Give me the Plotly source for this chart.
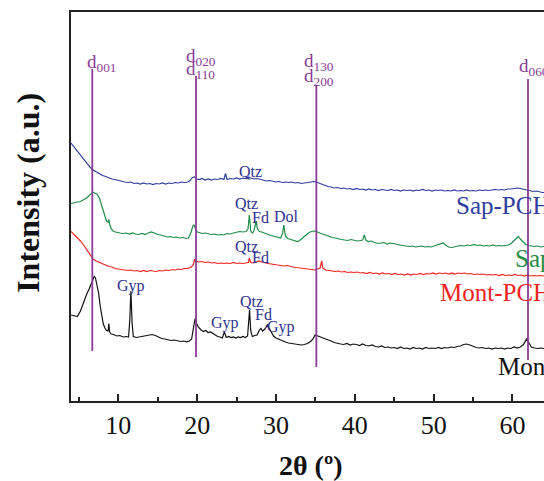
import plotly.graph_objects as go

# ---------------- data (2theta in degrees, intensity in arbitrary units) ----------------
MONT = [(4.0, 86), (4.4, 85), (4.8, 84.5), (5.2, 90), (5.6, 99), (6.0, 107), (6.3, 112), (6.6, 117),
        (6.8, 121), (6.95, 124.5), (7.1, 123), (7.3, 117), (7.5, 108), (7.7, 95), (7.9, 84), (8.1, 77),
        (8.3, 73), (8.5, 70.5), (8.7, 70), (8.8, 77.5), (8.9, 69), (9.1, 67), (9.4, 66.5), (9.8, 65),
        (10.2, 65.5), (10.6, 64), (11.0, 64.5), (11.3, 64), (11.45, 80), (11.6, 110), (11.75, 78),
        (11.9, 64.5), (12.3, 63.5), (12.7, 64), (13.1, 64.5), (13.5, 65), (13.9, 66), (14.3, 66.5),
        (14.7, 65.5), (15.1, 64), (15.5, 62.5), (15.9, 62), (16.3, 61), (16.7, 60.5), (17.1, 61),
        (17.5, 60), (17.9, 59.5), (18.3, 60), (18.7, 59.2), (19.0, 60), (19.3, 62), (19.55, 74),
        (19.75, 82.5), (19.95, 77), (20.2, 73.5), (20.5, 71), (20.8, 69.5), (21.1, 70.5), (21.4, 68.5),
        (21.7, 69), (22.0, 67.5), (22.3, 66), (22.6, 64.5), (22.9, 64), (23.2, 63), (23.45, 69),
        (23.7, 63.5), (24.0, 64.5), (24.3, 63.5), (24.6, 64), (24.9, 63), (25.2, 64), (25.5, 63.5),
        (25.8, 64.5), (26.1, 63.5), (26.4, 65), (26.55, 80), (26.65, 91), (26.8, 70), (27.0, 64.5),
        (27.3, 65.5), (27.6, 66), (27.9, 71), (28.1, 72.5), (28.3, 70), (28.6, 72), (28.9, 76),
        (29.1, 73), (29.4, 68), (29.7, 65), (30.0, 63), (30.4, 61.5), (30.8, 60.5), (31.2, 59),
        (31.6, 58), (32.0, 57.5), (32.4, 57), (32.8, 56.5), (33.2, 56), (33.6, 56.5), (34.0, 57.5),
        (34.4, 59.5), (34.7, 62), (34.95, 66), (35.2, 65), (35.5, 64.5), (35.8, 63.5), (36.2, 62.5),
        (36.6, 61), (37.0, 60), (37.4, 58.5), (37.8, 57.5), (38.2, 57), (38.6, 56.5), (39.0, 57.5),
        (39.4, 56), (39.8, 57), (40.2, 56.5), (40.6, 55.5), (41.0, 57), (41.4, 55.5), (41.8, 55),
        (42.2, 56), (42.6, 54.5), (43.0, 54), (43.4, 55), (43.8, 53.5), (44.2, 54), (44.6, 53),
        (45.0, 53.5), (45.4, 52.5), (45.8, 54), (46.2, 52.5), (46.6, 53), (47.0, 52), (47.4, 53.5),
        (47.8, 52.5), (48.2, 53), (48.6, 52), (49.0, 53.5), (49.4, 52.5), (49.8, 53), (50.2, 52.5),
        (50.6, 53.5), (51.0, 52.5), (51.4, 53.5), (51.8, 53), (52.2, 54), (52.6, 53.5), (53.0, 54.5),
        (53.4, 55), (53.8, 56.5), (54.2, 57), (54.6, 56), (55.0, 54.5), (55.4, 53.5), (55.8, 53),
        (56.2, 53.5), (56.6, 52.5), (57.0, 53), (57.4, 52), (57.8, 53), (58.2, 52.5), (58.6, 53),
        (59.0, 52), (59.4, 53), (59.8, 52.5), (60.2, 54), (60.6, 53), (61.0, 54), (61.4, 56.5),
        (61.8, 62), (62.1, 58), (62.4, 54), (62.8, 53), (63.2, 52.5), (63.6, 53), (64.0, 52.5)]

MONT_PCH = [(4.0, 169.5), (4.4, 166.5), (4.8, 163), (5.2, 160), (5.6, 156), (6.0, 151), (6.4, 146),
            (6.8, 142), (7.2, 140), (7.6, 138.5), (8.0, 137), (8.4, 136), (8.8, 134.5), (9.2, 134),
            (9.6, 132.5), (10.0, 132), (10.4, 131.5), (10.8, 131), (11.2, 130.5), (11.6, 131),
            (12.0, 130), (12.4, 130.5), (12.8, 129.5), (13.2, 130.5), (13.6, 129.5), (14.0, 130.5),
            (14.4, 130), (14.8, 129.5), (15.2, 130.5), (15.6, 130), (16.0, 131), (16.4, 130.5),
            (16.8, 131.5), (17.2, 131), (17.6, 132), (18.0, 131.5), (18.4, 132.5), (18.8, 132.5),
            (19.2, 133.5), (19.5, 136), (19.7, 142), (19.9, 140), (20.2, 139), (20.6, 139.5),
            (21.0, 138.5), (21.4, 139), (21.8, 138), (22.2, 138.5), (22.6, 137.5), (23.0, 138),
            (23.4, 137.5), (23.8, 138), (24.2, 137.5), (24.6, 138.5), (25.0, 137.5), (25.4, 138),
            (25.8, 137.5), (26.2, 138), (26.5, 138.5), (26.62, 143), (26.8, 138.5), (27.1, 138),
            (27.5, 139), (27.9, 140), (28.2, 139), (28.6, 138), (29.0, 137.5), (29.4, 137),
            (29.8, 136.5), (30.2, 136), (30.6, 136), (31.0, 135), (31.4, 135.5), (31.8, 134.5),
            (32.2, 134), (32.6, 133.5), (33.0, 133), (33.4, 132.5), (33.8, 132), (34.2, 131.5),
            (34.6, 131.5), (35.0, 131), (35.3, 132), (35.6, 133), (35.8, 140), (35.95, 133),
            (36.3, 131), (36.7, 130.5), (37.1, 130), (37.5, 129.5), (37.9, 130), (38.3, 129),
            (38.7, 129.5), (39.1, 128.5), (39.5, 129), (39.9, 128.5), (40.3, 129), (40.7, 128),
            (41.1, 128.5), (41.5, 127.5), (41.9, 128.5), (42.3, 127.5), (42.7, 128), (43.1, 127),
            (43.5, 128), (43.9, 127), (44.3, 127.5), (44.7, 126.5), (45.1, 127.5), (45.5, 126.5),
            (45.9, 127), (46.3, 126), (46.7, 127), (47.1, 126), (47.5, 127), (47.9, 126.5),
            (48.3, 127.5), (48.7, 126.5), (49.1, 127.5), (49.5, 127), (49.9, 128), (50.3, 127),
            (50.7, 128), (51.1, 127.5), (51.5, 128), (51.9, 127), (52.3, 128), (52.7, 127),
            (53.1, 128), (53.5, 127.5), (53.9, 128), (54.3, 127), (54.7, 127.5), (55.1, 126.5),
            (55.5, 127), (55.9, 126.5), (56.3, 127), (56.7, 126), (57.1, 126.5), (57.5, 126),
            (57.9, 126.5), (58.3, 125.5), (58.7, 126.5), (59.1, 125.5), (59.5, 126), (59.9, 125.5),
            (60.3, 126.5), (60.7, 125.5), (61.1, 126), (61.5, 125), (61.9, 126), (62.3, 125),
            (62.7, 125.5), (63.1, 125), (63.5, 125.5), (64.0, 125)]

SAP = [(4.0, 197.5), (4.4, 198.5), (4.8, 199), (5.2, 199.5), (5.6, 201), (6.0, 203), (6.3, 205.5),
       (6.6, 208), (6.8, 208.7), (7.0, 208), (7.3, 207), (7.6, 203), (7.9, 195), (8.2, 186),
       (8.5, 180), (8.7, 179), (8.8, 181.5), (8.9, 177), (9.1, 172), (9.4, 169.5), (9.8, 168.5),
       (10.2, 168), (10.6, 167.5), (11.0, 168), (11.4, 167), (11.8, 168), (12.2, 167), (12.6, 166.5),
       (13.0, 167.5), (13.4, 166.5), (13.8, 168), (14.2, 169), (14.6, 168), (15.0, 166.5), (15.4, 166),
       (15.8, 165), (16.2, 164), (16.6, 164.5), (17.0, 163.5), (17.4, 164), (17.8, 163), (18.2, 163.5),
       (18.6, 162.5), (18.9, 163), (19.2, 168), (19.45, 175), (19.6, 176), (19.8, 172), (20.0, 169),
       (20.3, 168.5), (20.6, 167.5), (21.0, 168), (21.4, 167), (21.8, 166.5), (22.2, 167), (22.6, 166),
       (23.0, 166.5), (23.4, 166), (23.8, 167.5), (24.2, 167), (24.6, 168), (25.0, 168.5),
       (25.4, 169.5), (25.8, 169), (26.2, 169.5), (26.45, 172), (26.62, 186), (26.8, 170), (27.0, 168),
       (27.2, 170), (27.4, 178), (27.5, 180), (27.65, 172), (27.9, 169.5), (28.2, 169), (28.6, 167.5),
       (29.0, 166.5), (29.4, 165.5), (29.8, 164.5), (30.2, 163.5), (30.6, 163), (30.85, 168),
       (31.0, 176), (31.2, 165), (31.5, 162.5), (31.9, 161.5), (32.3, 160.5), (32.7, 159.5),
       (33.0, 160.5), (33.3, 162.5), (33.6, 164.5), (33.9, 166), (34.2, 168.5), (34.5, 169.5),
       (34.8, 170), (35.1, 169.5), (35.5, 168), (35.9, 167), (36.3, 166), (36.7, 164.5), (37.1, 163.5),
       (37.5, 163), (37.9, 162), (38.3, 161.5), (38.7, 161), (39.1, 160.5), (39.5, 161.5), (39.9, 160.5),
       (40.3, 160), (40.7, 160.5), (41.0, 161), (41.2, 166), (41.4, 161), (41.7, 159.5), (42.1, 160),
       (42.5, 158.5), (42.9, 157.5), (43.3, 158), (43.7, 158.5), (44.1, 157), (44.5, 158), (44.9, 157.5),
       (45.3, 156.5), (45.7, 156), (46.1, 155.5), (46.5, 155), (46.9, 154.5), (47.3, 155), (47.7, 154),
       (48.1, 154.5), (48.5, 155), (48.9, 154), (49.3, 154.5), (49.7, 154), (50.1, 155), (50.5, 156),
       (50.9, 157.5), (51.2, 158), (51.5, 156), (51.9, 154), (52.3, 153.5), (52.7, 154.5), (53.1, 155),
       (53.5, 155.5), (53.9, 155), (54.3, 156), (54.7, 155.5), (55.1, 156.5), (55.5, 155.5), (55.9, 156),
       (56.3, 155), (56.7, 155.5), (57.1, 155), (57.5, 156), (57.9, 155), (58.3, 155.5), (58.7, 155),
       (59.1, 155.5), (59.5, 156), (59.9, 158), (60.2, 160.5), (60.5, 163), (60.75, 164.5), (61.0, 162),
       (61.3, 159), (61.6, 157), (62.0, 155.5), (62.4, 155), (62.8, 154.5), (63.2, 155), (63.6, 154),
       (64.0, 154.5)]

SAP_PCH = [(4.0, 258), (4.4, 254), (4.8, 249.5), (5.2, 245.5), (5.6, 241), (6.0, 237.5), (6.4, 234),
           (6.8, 231), (7.2, 229), (7.6, 227), (8.0, 225.5), (8.4, 224.5), (8.8, 223), (9.2, 222),
           (9.6, 221.5), (10.0, 220.5), (10.4, 220), (10.8, 219), (11.2, 218.5), (11.6, 219),
           (12.0, 217.5), (12.4, 218), (12.8, 217), (13.2, 218), (13.6, 217), (14.0, 217.5),
           (14.4, 216.5), (14.8, 217.5), (15.2, 217), (15.6, 218), (16.0, 217), (16.4, 218),
           (16.8, 217.5), (17.2, 218.5), (17.6, 218), (18.0, 219), (18.4, 218.5), (18.8, 219),
           (19.1, 220.5), (19.4, 223.5), (19.7, 224), (20.0, 222), (20.3, 221.5), (20.6, 222.5),
           (21.0, 221), (21.4, 222), (21.8, 221), (22.2, 222), (22.6, 221.5), (23.0, 222.5),
           (23.4, 221.5), (23.6, 227.5), (23.8, 221.5), (24.2, 222.5), (24.6, 222), (25.0, 223),
           (25.4, 222), (25.8, 223), (26.2, 222.5), (26.5, 224), (26.8, 223), (27.2, 222),
           (27.6, 222.5), (28.0, 221.5), (28.4, 221), (28.8, 220), (29.2, 220.5), (29.6, 219.5),
           (30.0, 219), (30.4, 219.5), (30.8, 218.5), (31.2, 219), (31.6, 218.5), (32.0, 219),
           (32.4, 218), (32.8, 218.5), (33.2, 217.5), (33.6, 218), (34.0, 218.5), (34.4, 219),
           (34.8, 219.5), (35.1, 219), (35.4, 218), (35.8, 216.5), (36.2, 215.5), (36.6, 214.5),
           (37.0, 214), (37.4, 213), (37.8, 213.5), (38.2, 212.5), (38.6, 213), (39.0, 212),
           (39.4, 212.5), (39.8, 211.5), (40.2, 212.5), (40.6, 211.5), (41.0, 212), (41.4, 211),
           (41.8, 212), (42.2, 211), (42.6, 211.5), (43.0, 210.5), (43.4, 211.5), (43.8, 211),
           (44.2, 210.5), (44.6, 211.5), (45.0, 210.5), (45.4, 211), (45.8, 210), (46.2, 211),
           (46.6, 210.5), (47.0, 211), (47.4, 210), (47.8, 211), (48.2, 210.5), (48.6, 211.5),
           (49.0, 210.5), (49.4, 211), (49.8, 210), (50.2, 211), (50.6, 210.5), (51.0, 211),
           (51.4, 210), (51.8, 210.5), (52.2, 210), (52.6, 211), (53.0, 210), (53.4, 210.5),
           (53.8, 210), (54.2, 211), (54.6, 210), (55.0, 210.5), (55.4, 210), (55.8, 211),
           (56.2, 210.5), (56.6, 211), (57.0, 210.5), (57.4, 211), (57.8, 211.5), (58.2, 211),
           (58.6, 211.5), (59.0, 211), (59.4, 212), (59.8, 212), (60.2, 212.5), (60.6, 213),
           (61.0, 212.5), (61.4, 211.5), (61.8, 211), (62.2, 210.5), (62.6, 209.5), (63.0, 210),
           (63.4, 209), (63.8, 208.5), (64.0, 208.5)]

SERIES_NAMES = ["Mont", "Mont-PCH", "Sap", "Sap-PCH"]

# reflections (2theta) with the extent of their marker lines
D_LABELS = ["d<sub>001</sub>", "d<sub>020</sub>", "d<sub>130</sub>", "d<sub>060</sub>"]
D_LABELS2 = ["", "d<sub>110</sub>", "d<sub>200</sub>", ""]
D_POS = [6.70, 19.86, 35.12, 61.97]
D_TOP = [332, 325, 316, 322]
D_BOTTOM = [50, 44, 34, 41]

# mineral phase labels: (text, 2theta, intensity)
PHASES = [("Qtz", 26.83, 230), ("Qtz", 26.26, 197.5), ("Fd", 28.04, 184), ("Dol", 31.34, 185),
          ("Qtz", 26.26, 154.5), ("Fd", 28.04, 143.5), ("Gyp", 11.67, 115), ("Gyp", 23.54, 78.5),
          ("Qtz", 26.9, 99.5), ("Fd", 28.42, 87), ("Gyp", 30.58, 74.5)]

TICKS = [10, 20, 30, 40, 50, 60]

# ---------------- styling ----------------
SERIF = "Liberation Serif"
COLORS = {"Mont": "#111111", "Mont-PCH": "#F2231F", "Sap": "#1E8C45", "Sap-PCH": "#2E3E9C"}
LABEL_POS = {"Sap-PCH": (52.55, 196), "Sap": (60.11, 142.7), "Mont-PCH": (50.52, 109), "Mont": (57.91, 34.3)}
PURPLE = "#8A3C97"
NAVY = "#2E3192"

fig = go.Figure()

for name, data in zip(SERIES_NAMES, [MONT, MONT_PCH, SAP, SAP_PCH]):
    fig.add_trace(go.Scatter(x=[p[0] for p in data], y=[p[1] for p in data], mode="lines",
                             line=dict(color=COLORS[name], width=1.2), showlegend=False,
                             hoverinfo="skip"))

for xp, yt, yb in zip(D_POS, D_TOP, D_BOTTOM):
    fig.add_trace(go.Scatter(x=[xp, xp], y=[yb, yt], mode="lines",
                             line=dict(color=PURPLE, width=1.8), showlegend=False, hoverinfo="skip"))

annotations = []
# d-spacing labels
d_first_base = [337.7, 344.5, 339, 334]
d_second_base = [None, 331, 324, None]
d_left = [5.78, 18.37, 33.3, 60.58]
for i in range(len(D_POS)):
    annotations.append(dict(x=d_left[i], y=d_first_base[i], xref="x", yref="y", text=D_LABELS[i],
                            showarrow=False, xanchor="left", yanchor="middle",
                            font=dict(family=SERIF, size=19, color=PURPLE)))
    if D_LABELS2[i]:
        annotations.append(dict(x=d_left[i], y=d_second_base[i], xref="x", yref="y", text=D_LABELS2[i],
                                showarrow=False, xanchor="left", yanchor="middle",
                                font=dict(family=SERIF, size=19, color=PURPLE)))

for txt, xx, yy in PHASES:
    annotations.append(dict(x=xx, y=yy, xref="x", yref="y", text=txt, showarrow=False,
                            xanchor="center", yanchor="middle",
                            font=dict(family=SERIF, size=16, color=NAVY)))

for name in SERIES_NAMES:
    lx, ly = LABEL_POS[name]
    annotations.append(dict(x=lx, y=ly, xref="x", yref="y", text=name, showarrow=False,
                            xanchor="left", yanchor="middle",
                            font=dict(family=SERIF, size=25, color=COLORS[name])))

annotations.append(dict(x=-0.091, y=0.535, xref="paper", yref="paper", text="<b>Intensity (a.u.)</b>",
                        textangle=-90, showarrow=False, xanchor="center", yanchor="middle",
                        font=dict(family=SERIF, size=32, color="#111111")))
annotations.append(dict(x=0.507, y=-0.167, xref="paper", yref="paper", text="<b>2θ (º)</b>",
                        showarrow=False, xanchor="center", yanchor="middle",
                        font=dict(family=SERIF, size=28, color="#111111")))

fig.update_layout(
    width=544, height=481,
    margin=dict(l=71, r=0, t=12, b=80, autoexpand=False),
    paper_bgcolor="white", plot_bgcolor="white",
    font=dict(family=SERIF),
    annotations=annotations,
    xaxis=dict(range=[4, 64], showline=True, linecolor="#222222", linewidth=2, mirror=True,
               ticks="inside", ticklen=7, tickwidth=1.5, tickcolor="#222222",
               tickvals=TICKS, ticktext=[str(t) for t in TICKS],
               tickfont=dict(family=SERIF, size=26, color="#111111"),
               showgrid=False, zeroline=False, automargin=False,
               minor=dict(ticks="inside", ticklen=4, tickwidth=1.5, tickcolor="#222222",
                          tickvals=[5, 15, 25, 35, 45, 55], showgrid=False)),
    yaxis=dict(range=[0, 389], showline=True, linecolor="#222222", linewidth=2,
               showticklabels=False, ticks="", showgrid=False, zeroline=False, automargin=False),
)

fig.write_html("out.html")
